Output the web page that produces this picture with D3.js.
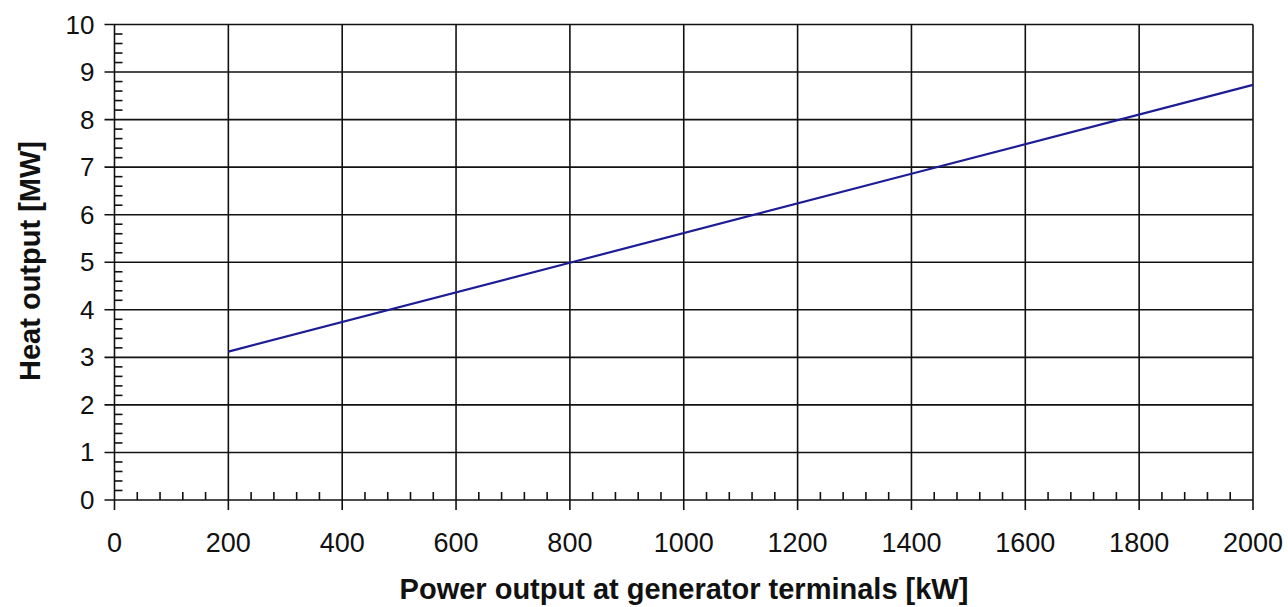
<!DOCTYPE html>
<html>
<head>
<meta charset="utf-8">
<script src="https://cdn.jsdelivr.net/npm/d3@7"></script>
<style>
  body { margin: 0; background: #fff; }
  text { font-family: "Liberation Sans", Arial, sans-serif; fill: #111; }
</style>
</head>
<body>
<div id="chart"></div>
<script>
// power output at generator terminals [kW] vs heat output [MW]
const powerKW = [200, 800, 1400, 2000]
const heatMW = [3.12, 4.99, 6.86, 8.73]

const xTicks = [0, 200, 400, 600, 800, 1000, 1200, 1400, 1600, 1800, 2000]
const yTicks = [0, 1, 2, 3, 4, 5, 6, 7, 8, 9, 10]

const width = 1288
const height = 607
const margin = {top: 24.5, right: 35, bottom: 107, left: 114.5}

const svg = d3.select('#chart')
    .append('svg')
    .attr('width', width)
    .attr('height', height)

const x = d3.scaleLinear()
    .domain([0, 2000])
    .range([margin.left, width - margin.right])

const y = d3.scaleLinear()
    .domain([0, 10])
    .range([height - margin.bottom, margin.top])

// minor ticks every 40 kW / 0.2 MW, drawn inward
const xMinor = d3.range(0, 2000.1, 40).filter(v => v % 200 !== 0)
const yMinor = d3.range(0, 10.01, 0.2).filter(v => Math.abs(v - Math.round(v)) > 0.01)

const grid = svg.append('g')
    .style('stroke', '#111')
    .style('stroke-width', 1.6)

// horizontal grid lines, sticking out left as major ticks
grid.selectAll('.hgrid')
    .data(yTicks)
    .enter()
    .append('line')
    .attr('x1', x(0) - 10)
    .attr('x2', x(2000))
    .attr('y1', d => y(d))
    .attr('y2', d => y(d))

// vertical grid lines, sticking out below as major ticks
grid.selectAll('.vgrid')
    .data(xTicks)
    .enter()
    .append('line')
    .attr('x1', d => x(d))
    .attr('x2', d => x(d))
    .attr('y1', y(10))
    .attr('y2', y(0) + 10)

grid.selectAll('.xminor')
    .data(xMinor)
    .enter()
    .append('line')
    .attr('x1', d => x(d))
    .attr('x2', d => x(d))
    .attr('y1', y(0))
    .attr('y2', y(0) - 8)

grid.selectAll('.yminor')
    .data(yMinor)
    .enter()
    .append('line')
    .attr('x1', x(0))
    .attr('x2', x(0) + 8)
    .attr('y1', d => y(d))
    .attr('y2', d => y(d))

// tick labels
svg.append('g')
    .selectAll('text')
    .data(xTicks)
    .enter()
    .append('text')
    .attr('x', d => x(d))
    .attr('y', y(0) + 52)
    .attr('text-anchor', 'middle')
    .style('font-size', '27px')
    .text(d => d)

svg.append('g')
    .selectAll('text')
    .data(yTicks)
    .enter()
    .append('text')
    .attr('x', x(0) - 20)
    .attr('y', d => y(d) + 9)
    .attr('text-anchor', 'end')
    .style('font-size', '26px')
    .text(d => d)

// the curve
const line = d3.line()
    .x((d, i) => x(powerKW[i]))
    .y(d => y(d))

svg.append('path')
    .datum(heatMW)
    .attr('d', line)
    .style('fill', 'none')
    .style('stroke', '#1c1c96')
    .style('stroke-width', 2.2)

// axis titles
svg.append('text')
    .attr('x', 684)
    .attr('y', 599)
    .attr('text-anchor', 'middle')
    .style('font-size', '29px')
    .style('font-weight', 'bold')
    .text('Power output at generator terminals [kW]')

svg.append('text')
    .attr('transform', `translate(40,261) rotate(-90)`)
    .attr('text-anchor', 'middle')
    .style('font-size', '29px')
    .style('font-weight', 'bold')
    .text('Heat output [MW]')
</script>
</body>
</html>
